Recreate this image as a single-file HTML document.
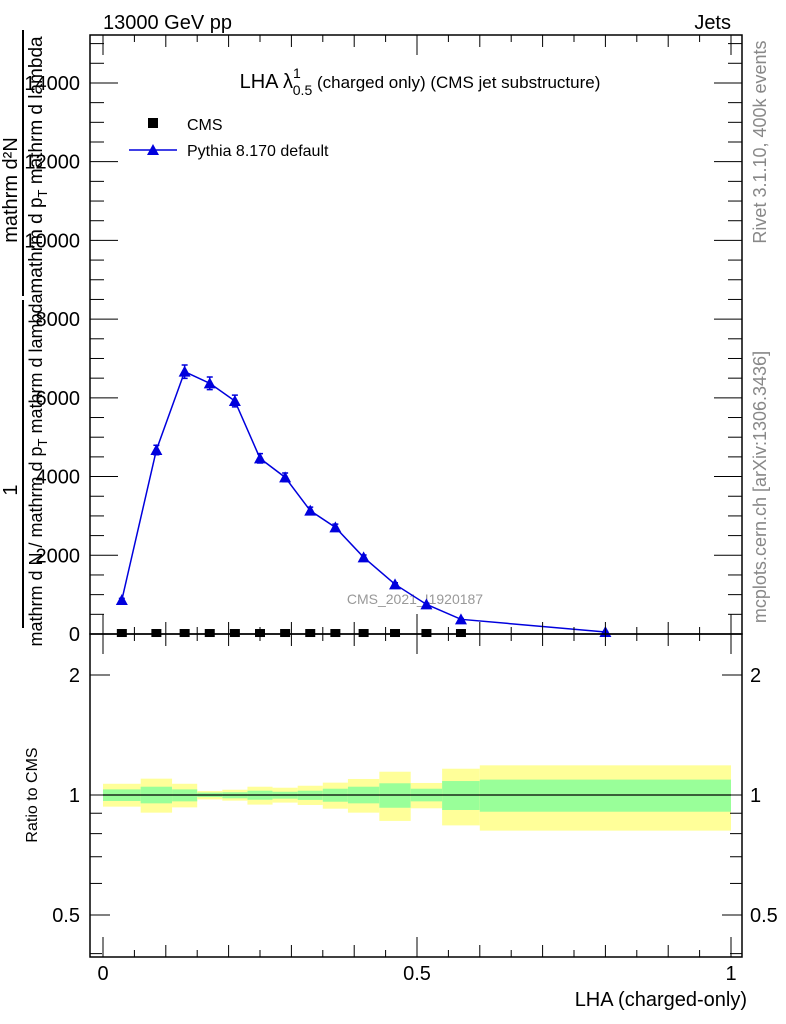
<!DOCTYPE html>
<html><head><meta charset="utf-8"><style>
html,body{margin:0;padding:0;background:#fff;}
svg{display:block;font-family:"Liberation Sans",sans-serif;}
</style></head><body>
<svg id="chart" width="786" height="1024" viewBox="0 0 786 1024">
  <g id="frames"></g>
  <text x="103" y="29" font-size="20">13000 GeV pp</text>
  <text x="731" y="29" font-size="20" text-anchor="end">Jets</text>
  <text x="420" y="88" font-size="20" text-anchor="middle">LHA λ<tspan font-size="14" dy="-10">1</tspan><tspan font-size="14" dx="-8" dy="17">0.5</tspan><tspan font-size="17" dy="-7"> (charged only) (CMS jet substructure)</tspan></text>
  <g>
    <rect x="148" y="118" width="10" height="10" fill="#000"/>
    <text x="187" y="130" font-size="16">CMS</text>
    <line x1="129" y1="150" x2="177" y2="150" stroke="#0000dd" stroke-width="1.5"/>
    <polygon points="153,144 147,155 159,155" fill="#0000dd"/>
    <text x="187" y="156" font-size="16">Pythia 8.170 default</text>
  </g>
  <g font-size="20" fill="#000">
    <text transform="translate(17,190) rotate(-90)" text-anchor="middle">mathrm d²N</text>
    <text transform="translate(42,165) rotate(-90)" text-anchor="middle" font-size="19">mathrm d p<tspan font-size="13" dy="5">T</tspan><tspan dy="-5"> mathrm d lambda</tspan></text>
    <line x1="23" y1="30" x2="23" y2="296" stroke="#000" stroke-width="2"/>
    <text transform="translate(17,490) rotate(-90)" text-anchor="middle">1</text>
    <line x1="23" y1="300" x2="23" y2="628" stroke="#000" stroke-width="2"/>
    <text transform="translate(42,470) rotate(-90)" text-anchor="middle" font-size="18">mathrm d N / mathrm d p<tspan font-size="13" dy="5">T</tspan><tspan dy="-5"> mathrm d lambda</tspan></text>
  </g>
  <text transform="translate(766,142) rotate(-90)" font-size="18" fill="#888" text-anchor="middle">Rivet 3.1.10,  400k events</text>
  <text transform="translate(766,487) rotate(-90)" font-size="18" fill="#888" text-anchor="middle">mcplots.cern.ch [arXiv:1306.3436]</text>
  <text x="415" y="604" font-size="14" fill="#999" text-anchor="middle">CMS_2021_I1920187</text>
  <text transform="translate(37,795) rotate(-90)" font-size="16" text-anchor="middle">Ratio to CMS</text>
  <text x="747" y="1006" font-size="20" text-anchor="end">LHA (charged-only)</text>
  <g id="ratio"></g>
  <g id="main"></g>
  <g id="axes"></g>
</svg>
<script>
const binEdges = [0, 0.06, 0.11, 0.15, 0.19, 0.23, 0.27, 0.31, 0.35, 0.39, 0.44, 0.49, 0.54, 0.6, 1.0];
const binCenters = [0.03, 0.085, 0.13, 0.17, 0.21, 0.25, 0.29, 0.33, 0.37, 0.415, 0.465, 0.515, 0.57, 0.8];
const pythiaValues = [864, 4675, 6665, 6369, 5920, 4463, 3980, 3134, 2710, 1948, 1262, 754, 373, 50];
const pythiaErrors = [40, 120, 170, 160, 150, 120, 110, 90, 80, 60, 40, 30, 20, 10];
const cmsValues = [25, 25, 25, 25, 25, 25, 25, 25, 25, 25, 25, 25, 25];
const statUp = [1.033, 1.049, 1.033, 1.014, 1.016, 1.025, 1.019, 1.025, 1.037, 1.049, 1.070, 1.037, 1.084, 1.093];
const statDn = [0.966, 0.953, 0.964, 0.988, 0.981, 0.973, 0.979, 0.972, 0.962, 0.953, 0.929, 0.964, 0.917, 0.908];
const totUp = [1.067, 1.099, 1.067, 1.023, 1.031, 1.049, 1.043, 1.055, 1.074, 1.097, 1.144, 1.072, 1.164, 1.187];
const totDn = [0.935, 0.903, 0.931, 0.975, 0.968, 0.946, 0.957, 0.944, 0.924, 0.903, 0.861, 0.926, 0.839, 0.814];
const yTicks = [0, 2000, 4000, 6000, 8000, 10000, 12000, 14000];
const yTickLabels = ["0", "2000", "4000", "6000", "8000", "10000", "12000", "14000"];
const xTicks = [0, 0.5, 1];
const xTickLabels = ["0", "0.5", "1"];
const rTicks = [0.5, 1, 2];
const rTickLabels = ["0.5", "1", "2"];

const NS = "http://www.w3.org/2000/svg";
const L = 90, R = 742, T = 35, MB = 634, RB = 957;
const xs = v => 103 + v * 628;
const ys = v => 634 - v * 0.03936;
const rs = v => 795 - Math.log10(v) * 398.6;
function mk(parent, tag, attrs) {
  const e = document.createElementNS(NS, tag);
  for (const k in attrs) e.setAttribute(k, attrs[k]);
  parent.appendChild(e);
  return e;
}
const frames = document.getElementById('frames');
const main = document.getElementById('main');
const ratio = document.getElementById('ratio');
const axes = document.getElementById('axes');

for (let i = 0; i < binCenters.length; i++) {
  const x0 = xs(binEdges[i]), x1 = xs(binEdges[i + 1]);
  const yb = mk(ratio, 'rect', {x: x0, y: rs(totUp[i]), width: x1 - x0, height: rs(totDn[i]) - rs(totUp[i]), fill: '#ffff99'});
  
  
  const gb = mk(ratio, 'rect', {x: x0, y: rs(statUp[i]), width: x1 - x0, height: rs(statDn[i]) - rs(statUp[i]), fill: '#99ff99'});
  
  
}
const rl = mk(ratio, 'line', {x1: xs(0), x2: xs(1), y1: rs(1), y2: rs(1), stroke: '#000', 'stroke-width': 1.2});



let pts = binCenters.map((c, i) => xs(c) + ',' + ys(pythiaValues[i])).join(' ');
const pl = mk(main, 'polyline', {points: pts, fill: 'none', stroke: '#0000dd', 'stroke-width': 1.5});


for (let i = 0; i < binCenters.length; i++) {
  const x = xs(binCenters[i]), y = ys(pythiaValues[i]);
  const eb = mk(main, 'path', {d: `M${x},${ys(pythiaValues[i] + pythiaErrors[i])}V${ys(pythiaValues[i] - pythiaErrors[i])}M${x - 3},${ys(pythiaValues[i] + pythiaErrors[i])}h6M${x - 3},${ys(pythiaValues[i] - pythiaErrors[i])}h6`, stroke: '#0000dd', 'stroke-width': 1.5, fill: 'none'});
  
  
  const m = mk(main, 'polygon', {points: `${x},${y - 6} ${x - 6},${y + 5} ${x + 6},${y + 5}`, fill: '#0000dd'});
  
  
}
for (let i = 0; i < cmsValues.length; i++) {
  const x = xs(binCenters[i]), y = ys(cmsValues[i]);
  const s = mk(main, 'rect', {x: x - 5, y: y - 4, width: 10, height: 8, fill: '#000'});
  
  
}

const f1 = mk(frames, 'rect', {x: L, y: T, width: R - L, height: MB - T, fill: 'none', stroke: '#000', 'stroke-width': 1.5});


const f2 = mk(axes, 'rect', {x: L, y: MB, width: R - L, height: RB - MB, fill: 'none', stroke: '#000', 'stroke-width': 1.5});



for (let v = 0; v <= 15000; v += 500) {
  const y = ys(v);
  if (y < T) break;
  const len = v % 2000 === 0 ? 28 : 14;
  mk(axes, 'line', {x1: L, x2: L + len, y1: y, y2: y, stroke: '#000'});
  mk(axes, 'line', {x1: R, x2: R - len, y1: y, y2: y, stroke: '#000'});
}
yTicks.forEach((v, i) => {
  const t = mk(axes, 'text', {x: 80, y: ys(v) + 7, 'font-size': 20, 'text-anchor': 'end'});
  t.textContent = yTickLabels[i];
  
  
});
for (let k = 0; k <= 20; k++) {
  const v = k * 0.05, x = xs(v);
  const major = k % 10 === 0, mid = k % 2 === 0;
  const len = major ? 20 : (mid ? 12 : 7);
  mk(axes, 'line', {x1: x, x2: x, y1: MB, y2: MB - len, stroke: '#000'});
  mk(axes, 'line', {x1: x, x2: x, y1: MB, y2: MB + len, stroke: '#000'});
  mk(axes, 'line', {x1: x, x2: x, y1: RB, y2: RB - len, stroke: '#000'});
  mk(axes, 'line', {x1: x, x2: x, y1: T, y2: T + len, stroke: '#000'});
}
xTicks.forEach((v, i) => {
  const t = mk(axes, 'text', {x: xs(v), y: 980, 'font-size': 20, 'text-anchor': 'middle'});
  t.textContent = xTickLabels[i];
  
  
});
[0.4, 0.5, 0.6, 0.7, 0.8, 0.9, 1, 2].forEach(v => {
  const y = rs(v);
  const len = rTicks.includes(v) ? 20 : 12;
  mk(axes, 'line', {x1: L, x2: L + len, y1: y, y2: y, stroke: '#000'});
  mk(axes, 'line', {x1: R, x2: R - len, y1: y, y2: y, stroke: '#000'});
});
rTicks.forEach((v, i) => {
  const t = mk(axes, 'text', {x: 80, y: rs(v) + 7, 'font-size': 20, 'text-anchor': 'end'});
  t.textContent = rTickLabels[i];
  
  
  const t2 = mk(axes, 'text', {x: 750, y: rs(v) + 7, 'font-size': 20});
  t2.textContent = rTickLabels[i];
  
  
});
</script>
</body></html>
